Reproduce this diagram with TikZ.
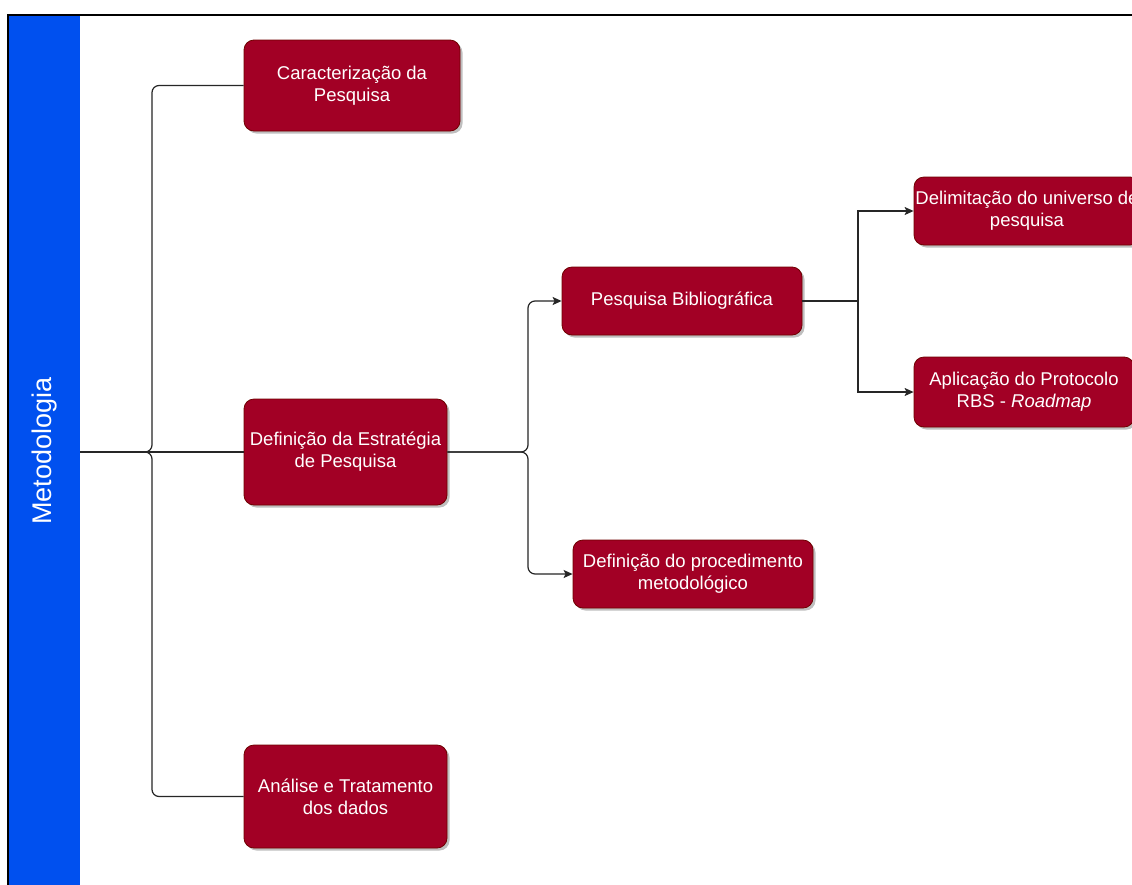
\documentclass[tikz,border=0pt]{standalone}
\usepackage{fontspec}
\setmainfont{Liberation Sans}
\usetikzlibrary{arrows.meta,shadows}
\definecolor{boxred}{HTML}{A20025}
\definecolor{boxedge}{HTML}{6F0000}
\definecolor{laneblue}{HTML}{0050EF}

\begin{document}
\begin{tikzpicture}[x=1pt,y=-1pt,
  stepbox/.style={draw=boxedge, line width=0.8pt, fill=boxred, rounded corners=10pt,
    text=white, align=center, inner sep=0pt,
    font=\fontsize{18.5}{22}\selectfont,
    drop shadow={shadow xshift=2.5pt, shadow yshift=-2.5pt, opacity=0.25, fill=black}},
  link/.style={draw=black!85, line width=1.2pt, rounded corners=7pt},
  arr/.style={link, -{Stealth[length=9pt,width=8pt,inset=2pt]}}]

% page area
\clip (0,0) rectangle (1132,884);
\fill[white] (0,0) rectangle (1132,884);

% swimlane frame and its blue header
\draw[black, line width=1.8pt, fill=white] (8,15) rectangle (1200,950);
\node[fill=laneblue, draw=none, anchor=north west, minimum width=71pt,
      minimum height=940pt, inner sep=0pt] (lane) at (9,16) {};
\node[rotate=90, text=white, font=\fontsize{27}{32}\selectfont] (metotext) at (45,451) {Metodologia};

% steps
\node[stepbox, minimum width=216pt, minimum height=91pt] (car) at (352,85.5)
  {Caracterização da\\Pesquisa};
\node[stepbox, minimum width=203pt, minimum height=106pt] (est) at (345.5,452)
  {Definição da Estratégia\\de Pesquisa};
\node[stepbox, minimum width=203pt, minimum height=103pt] (ana) at (345.5,796.5)
  {Análise e Tratamento\\dos dados};
\node[stepbox, minimum width=240pt, minimum height=68pt] (pb) at (682,301)
  {Pesquisa Bibliográfica};
\node[stepbox, minimum width=240pt, minimum height=68pt] (proc) at (693,574)
  {Definição do procedimento\\metodológico};
\node[stepbox, minimum width=226pt, minimum height=68pt] (delim) at (1027,211)
  {Delimitação do universo de\\pesquisa};
\node[stepbox, minimum width=220pt, minimum height=70pt] (apl) at (1024,392)
  {Aplicação do Protocolo\\RBS - \textit{Roadmap}};

% branch points
\coordinate (hub) at (152,452);
\coordinate (fork1) at (528,452);
\coordinate (fork2) at (858,301);

% connectors from the lane header to the three main steps
\draw[link] (lane.east |- est.west) -- (hub) |- (car.west);
\draw[link] (lane.east |- est.west) -- (est.west);
\draw[link] (lane.east |- est.west) -- (hub) |- (ana.west);

% strategy branches
\draw[arr] (est.east) -- (fork1) |- (pb.west);
\draw[arr] (est.east) -- (fork1) |- (proc.west);

% bibliographic research branches
\draw[arr, rounded corners=0pt] (pb.east) -- (fork2) |- (delim.west);
\draw[arr, rounded corners=0pt] (pb.east) -- (fork2) |- (apl.west);
\end{tikzpicture}
\end{document}
